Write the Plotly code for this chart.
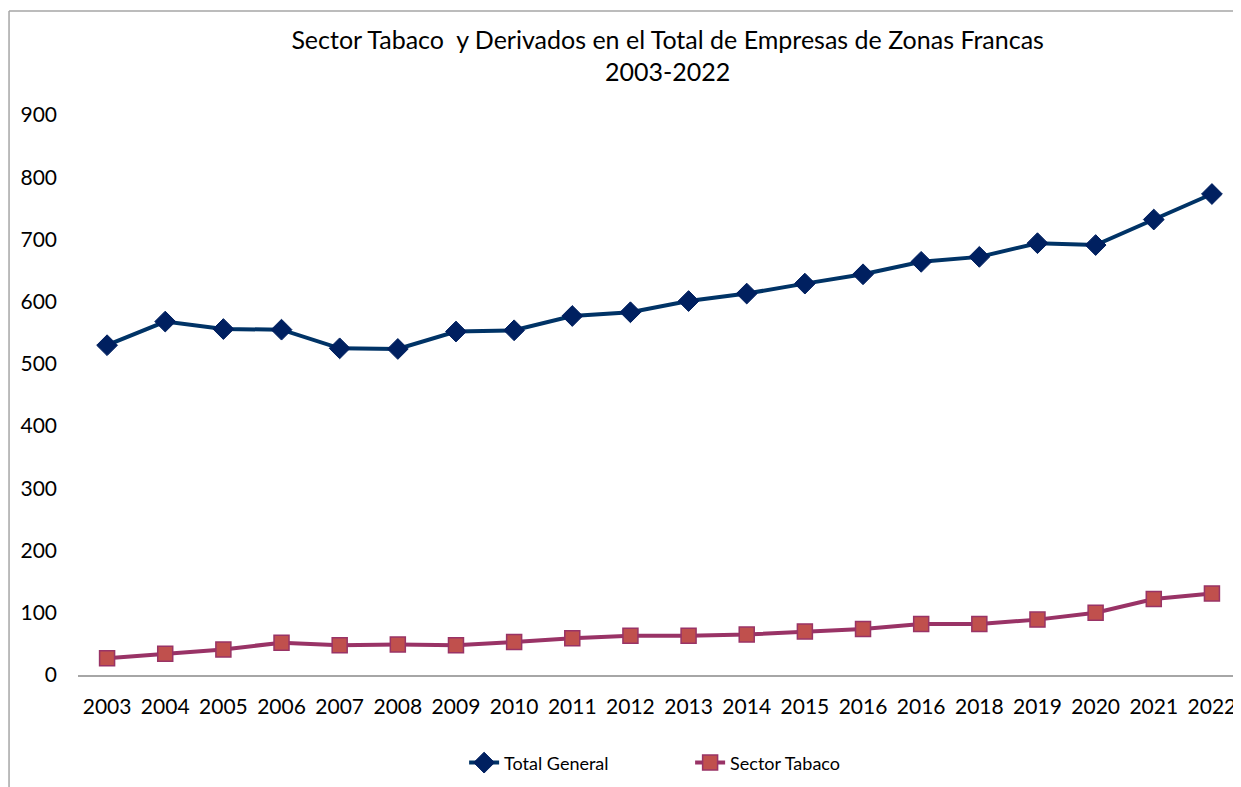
import plotly.graph_objects as go

years = ["2003", "2004", "2005", "2006", "2007", "2008", "2009", "2010", "2011", "2012",
         "2013", "2014", "2015", "2016", "2016", "2018", "2019", "2020", "2021", "2022"]
total_general = [530, 568, 556, 555, 525, 524, 552, 554, 577, 583,
                 601, 613, 629, 644, 664, 672, 694, 691, 732, 773]
sector_tabaco = [27, 34, 41, 52, 48, 49, 48, 53, 59, 63,
                 63, 65, 70, 74, 82, 82, 89, 100, 122, 131]
y_ticks = [0, 100, 200, 300, 400, 500, 600, 700, 800, 900]

x = list(range(len(years)))
FONT = "Lato"

fig = go.Figure()
fig.add_trace(go.Scatter(
    x=x, y=total_general, name="Total General", mode="lines+markers",
    line=dict(color="#003366", width=4),
    marker=dict(symbol="diamond", size=16, color="#002060", line=dict(color="#002060", width=1)),
))
fig.add_trace(go.Scatter(
    x=x, y=sector_tabaco, name="Sector Tabaco", mode="lines+markers",
    line=dict(color="#993366", width=4),
    marker=dict(symbol="square", size=15, color="#C0504D", line=dict(color="#993366", width=1.5)),
))

fig.update_layout(
    width=1233, height=779,
    margin=dict(l=70, r=0, t=107, b=112),
    paper_bgcolor="white", plot_bgcolor="white",
    font=dict(family=FONT, color="#000000"),
    title=dict(text="Sector Tabaco  y Derivados en el Total de Empresas de Zonas Francas<br>2003-2022",
               x=0.535, xanchor="center", y=0.948, yanchor="top",
               font=dict(family=FONT, size=25, color="#000000")),
    showlegend=True,
    legend=dict(orientation="h", x=0.332, xanchor="left", y=-0.157, yanchor="middle",
                font=dict(family=FONT, size=18, color="#000000"),
                traceorder="normal", entrywidthmode="pixels", entrywidth=181),
)
fig.update_xaxes(
    range=[-0.5, len(years) - 0.5], tickmode="array", tickvals=x, ticktext=years,
    showgrid=False, zeroline=False, showline=True, linecolor="#A6A6A6", linewidth=2,
    ticks="", ticklabelstandoff=12, tickfont=dict(family=FONT, size=21, color="#000000"),
)
fig.update_yaxes(
    range=[0, 900], tickmode="array", tickvals=y_ticks, showgrid=False, zeroline=False,
    showline=False, ticks="", ticklabelstandoff=20,
    tickfont=dict(family=FONT, size=21, color="#000000"),
)
# chart-area frame (left and top edges visible)
fig.add_shape(type="line", xref="paper", yref="paper",
              x0=-0.0593, x1=-0.0593, y0=-0.35, y1=1.1857,
              line=dict(color="#A6A6A6", width=1.5), layer="above")
fig.add_shape(type="line", xref="paper", yref="paper",
              x0=-0.0593, x1=1.05, y0=1.1857, y1=1.1857,
              line=dict(color="#A6A6A6", width=1.5), layer="above")

fig.write_html("out.html")
